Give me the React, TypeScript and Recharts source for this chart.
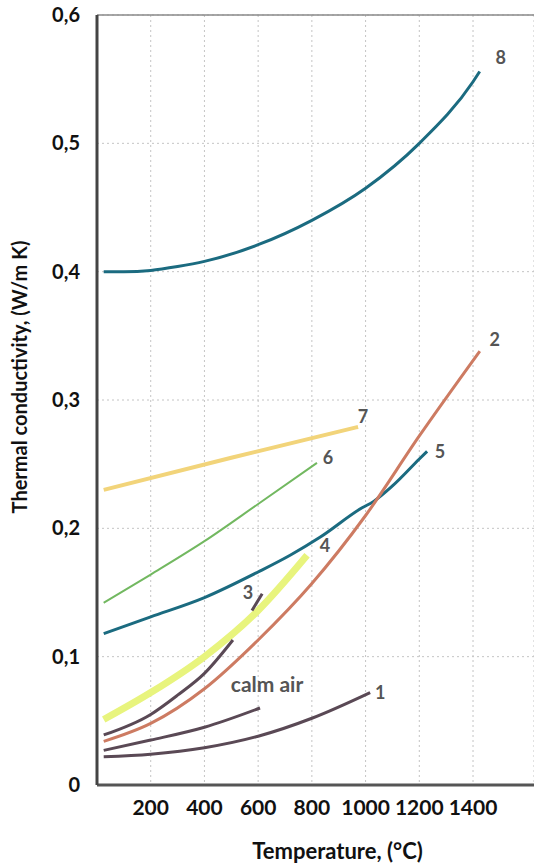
import React from "react";
import { LineChart, Line, XAxis, YAxis, CartesianGrid, ReferenceLine, Label } from "recharts";

// Temperature (°C) and thermal conductivity (W/m K) per curve
const temps8 = [25, 100, 200, 300, 400, 600, 800, 1000, 1200, 1400, 1425];
const k8 = [0.400, 0.400, 0.401, 0.404, 0.408, 0.421, 0.440, 0.465, 0.500, 0.548, 0.556];

const temps7 = [25, 500, 972];
const k7 = [0.230, 0.255, 0.279];

const temps6 = [25, 200, 400, 600, 819];
const k6 = [0.142, 0.164, 0.190, 0.219, 0.251];

const temps5 = [25, 200, 400, 600, 719, 830, 987, 1030, 1100, 1200, 1229];
const k5 = [0.118, 0.131, 0.146, 0.166, 0.179, 0.193, 0.216, 0.221, 0.233, 0.254, 0.260];

const temps4 = [25, 200, 400, 600, 782];
const k4 = [0.051, 0.072, 0.100, 0.136, 0.179];

const temps3 = [25, 200, 300, 400, 506, 540, 577, 615];
const k3 = [0.039, 0.055, 0.070, 0.087, 0.113, null, 0.136, 0.149];

const temps2 = [25, 200, 400, 600, 800, 1000, 1200, 1425];
const k2 = [0.034, 0.048, 0.075, 0.113, 0.157, 0.210, 0.272, 0.338];

const tempsAir = [25, 200, 400, 607];
const kAir = [0.027, 0.035, 0.045, 0.060];

const temps1 = [25, 200, 400, 600, 800, 1017];
const k1 = [0.022, 0.024, 0.029, 0.038, 0.052, 0.072];

const xTicks = [200, 400, 600, 800, 1000, 1200, 1400];
const yTicks = [0, 0.1, 0.2, 0.3, 0.4, 0.5, 0.6];

const build = (t: number[], k: (number | null)[]) => t.map((v, i) => ({ t: v, k: k[i] }));

const FONT = "Lato, 'Open Sans', sans-serif";

const curveLabel = (text: string, idx: number, dx: number, dy: number, size = 18) => (props: any) => {
  const { x, y, index } = props;
  if (index !== idx || x == null || y == null) return <g key={`l-${index}`} />;
  return (
    <text
      key={`l-${index}`}
      x={x + dx}
      y={y + dy}
      textAnchor="middle"
      dominantBaseline="central"
      fontFamily={FONT}
      fontWeight={700}
      fontSize={size}
      fill="#555"
    >
      {text}
    </text>
  );
};

const TEAL = "#1b6b80";
const DARK = "#5a4955";

export default function App() {
  return (
    <div style={{ position: "absolute", left: 0, top: 0, background: "#fff" }}>
      <LineChart width={534} height={866} margin={{ top: 15, right: 0, bottom: 0, left: 0 }}>
        <CartesianGrid stroke="#c4c4c4" strokeDasharray="2 3" />
        <ReferenceLine y={0.6} stroke="#8a8a8a" strokeWidth={1.5} />
        <XAxis
          type="number"
          dataKey="t"
          domain={[0, 1627]}
          ticks={xTicks}
          height={81}
          tickSize={0}
          tickMargin={15}
          axisLine={{ stroke: "#555", strokeWidth: 3 }}
          tick={{ fill: "#111", fontSize: 21, fontWeight: 700, fontFamily: FONT }}
          allowDuplicatedCategory={false}
        >
          <Label
            value="Temperature, (°C)"
            position="insideBottom"
            offset={7}
            dx={22}
            style={{ fill: "#111", fontSize: 22, fontWeight: 700, fontFamily: FONT }}
          />
        </XAxis>
        <YAxis
          type="number"
          domain={[0, 0.6]}
          ticks={yTicks}
          width={97}
          tickSize={0}
          tickMargin={17}
          axisLine={{ stroke: "#444", strokeWidth: 3 }}
          tickFormatter={(v: number) => (v === 0 ? "0" : v.toFixed(1).replace(".", ","))}
          tick={{ fill: "#111", fontSize: 20, fontWeight: 700, fontFamily: FONT }}
        >
          <Label
            content={() => (
              <text
                x={19}
                y={377}
                transform="rotate(-90 19 377)"
                textAnchor="middle"
                dominantBaseline="central"
                fontFamily={FONT}
                fontWeight={700}
                fontSize={20}
                fill="#111"
              >
                Thermal conductivity,  (W/m K)
              </text>
            )}
          />
        </YAxis>

        <Line data={build(temps8, k8)} dataKey="k" type="monotone" stroke={TEAL} strokeWidth={3} dot={false} isAnimationActive={false} label={curveLabel("8", temps8.length - 1, 21, -14)} />
        <Line data={build(temps7, k7)} dataKey="k" type="monotone" stroke="#f2d47a" strokeWidth={4} dot={false} isAnimationActive={false} label={curveLabel("7", temps7.length - 1, 5, -11)} />
        <Line data={build(temps6, k6)} dataKey="k" type="monotone" stroke="#72b860" strokeWidth={2} dot={false} isAnimationActive={false} label={curveLabel("6", temps6.length - 1, 11, -6)} />
        <Line data={build(temps5, k5)} dataKey="k" type="monotone" stroke={TEAL} strokeWidth={3} dot={false} isAnimationActive={false} label={curveLabel("5", temps5.length - 1, 13, 0)} />
        <Line data={build(temps4, k4)} dataKey="k" type="monotone" stroke="#e8f47d" strokeWidth={7} dot={false} isAnimationActive={false} label={curveLabel("4", temps4.length - 1, 18, -10)} />
        <Line data={build(temps3, k3)} dataKey="k" type="monotone" stroke={DARK} strokeWidth={3} dot={false} isAnimationActive={false} label={curveLabel("3", 6, -4, -18)} />
        <Line data={build(temps2, k2)} dataKey="k" type="monotone" stroke="#cd7b62" strokeWidth={3} dot={false} isAnimationActive={false} label={curveLabel("2", temps2.length - 1, 15, -12)} />
        <Line data={build(tempsAir, kAir)} dataKey="k" type="monotone" stroke={DARK} strokeWidth={3} dot={false} isAnimationActive={false} label={curveLabel("calm air", tempsAir.length - 1, 7, -25, 21)} />
        <Line data={build(temps1, k1)} dataKey="k" type="monotone" stroke={DARK} strokeWidth={3} dot={false} isAnimationActive={false} label={curveLabel("1", temps1.length - 1, 10, -1)} />
      </LineChart>
    </div>
  );
}
